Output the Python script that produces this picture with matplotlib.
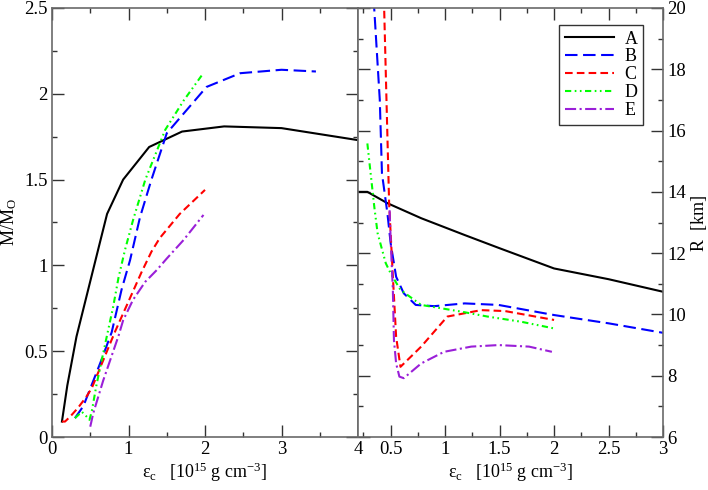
import numpy as np
import matplotlib
matplotlib.use('Agg')
import matplotlib.pyplot as plt
from matplotlib.ticker import MultipleLocator

plt.rcParams['font.family'] = ['Liberation Serif', 'DejaVu Serif']
plt.rcParams['mathtext.fontset'] = 'custom'
plt.rcParams['mathtext.rm'] = 'Liberation Serif'
plt.rcParams['mathtext.it'] = 'Liberation Serif:italic'
plt.rcParams['lines.scale_dashes'] = False

# left panel: M/Msun vs central density
eA_m = [0.13, 0.2, 0.32, 0.63, 0.72, 0.93, 1.27, 1.7, 2.25, 3.0, 4.0]
mA = [0.09, 0.30, 0.585, 1.14, 1.30, 1.50, 1.69, 1.78, 1.81, 1.80, 1.73]

eB_m = [0.3, 0.41, 0.63, 0.78, 0.91, 1.02, 1.15, 1.30, 1.5, 1.75, 2.02, 2.46, 3.0, 3.45]
mB = [0.11, 0.18, 0.43, 0.61, 0.86, 1.03, 1.28, 1.50, 1.77, 1.90, 2.04, 2.12, 2.14, 2.13]

eC_m = [0.13, 0.17, 0.24, 0.34, 0.45, 0.52, 0.82, 0.93, 1.04, 1.17, 1.30, 1.41, 1.67, 2.0]
mC = [0.09, 0.09, 0.12, 0.17, 0.235, 0.285, 0.61, 0.72, 0.83, 0.96, 1.08, 1.16, 1.30, 1.44]

eD_m = [0.3, 0.39, 0.45, 0.49, 0.52, 0.58, 0.67, 0.80, 0.87, 0.954, 1.06, 1.22, 1.48, 1.72, 1.97]
mD = [0.11, 0.147, 0.12, 0.10, 0.15, 0.30, 0.49, 0.76, 0.93, 1.09, 1.265, 1.50, 1.79, 1.96, 2.115]

eE_m = [0.5, 0.54, 0.67, 0.87, 0.93, 1.06, 1.22, 1.37, 1.5, 1.72, 1.98]
mE = [0.06, 0.14, 0.33, 0.59, 0.68, 0.80, 0.905, 0.973, 1.04, 1.148, 1.294]

# right panel: R vs central density
eA_r = [0.2, 0.286, 0.47, 0.78, 1.18, 1.5, 2.0, 2.5, 3.0]
rA = [14.0, 14.0, 13.63, 13.14, 12.59, 12.16, 11.5, 11.15, 10.74]

eB_r = [0.34, 0.40, 0.42, 0.47, 0.50, 0.55, 0.62, 0.73, 0.90, 1.18, 1.49, 2.0, 2.5, 3.0]
rB = [20.5, 17.0, 14.6, 13.3, 12.32, 11.23, 10.69, 10.31, 10.27, 10.36, 10.31, 9.98, 9.71, 9.40]

eC_r = [0.435, 0.44, 0.465, 0.486, 0.517, 0.55, 0.59, 0.78, 1.02, 1.33, 1.55, 2.0]
rC = [20.5, 20.0, 16.5, 13.6, 11.45, 9.27, 8.29, 8.95, 9.93, 10.14, 10.11, 9.82]

eD_r = [0.286, 0.316, 0.35, 0.38, 0.455, 0.50, 0.59, 0.78, 1.15, 1.39, 1.70, 1.99]
rD = [15.58, 14.6, 13.5, 12.65, 11.67, 11.34, 10.8, 10.31, 10.09, 9.93, 9.76, 9.55]

eE_r = [0.49, 0.50, 0.52, 0.53, 0.55, 0.58, 0.62, 0.78, 0.99, 1.24, 1.49, 1.77, 1.98]
rE = [13.4, 12.43, 10.8, 9.16, 8.4, 7.97, 7.92, 8.4, 8.78, 8.95, 9.0, 8.95, 8.78]

labels = ['A', 'B', 'C', 'D', 'E']
colors = ['black', '#0000ff', '#ff0000', '#00ff00', '#9a1fd8']
styles = ['-', (0, (9, 4)), (0, (5.5, 3)), (0, (4.5, 2.5, 1.2, 2.5, 1.2, 2.5)),
          (0, (8, 2.5, 1.5, 2.5))]

mass = [(eA_m, mA), (eB_m, mB), (eC_m, mC), (eD_m, mD), (eE_m, mE)]
radius = [(eA_r, rA), (eB_r, rB), (eC_r, rC), (eD_r, rD), (eE_r, rE)]

fig = plt.figure(figsize=(7.08, 4.90), dpi=100)
ax1 = fig.add_axes([52/708, 53/490, 306/708, 429/490])
ax2 = fig.add_axes([358/708, 53/490, 305/708, 429/490])

for (x, y), c, ls, lab in zip(mass, colors, styles, labels):
    ax1.plot(x, y, color=c, ls=ls, lw=1.5, label=lab)
for (x, y), c, ls, lab in zip(radius, colors, styles, labels):
    ax2.plot(x, y, color=c, ls=ls, lw=1.5, label=lab)

fmt = plt.FuncFormatter(lambda v, p: '%g' % v)

ax1.set_xlim(0, 4)
ax1.set_ylim(0, 2.5)
ax1.xaxis.set_major_locator(MultipleLocator(1))
ax1.xaxis.set_minor_locator(MultipleLocator(0.5))
ax1.yaxis.set_major_locator(MultipleLocator(0.5))
ax1.yaxis.set_minor_locator(MultipleLocator(0.25))
ax1.xaxis.set_major_formatter(fmt)
ax1.yaxis.set_major_formatter(fmt)

ax2.set_xlim(0.2, 3)
ax2.set_ylim(6, 20)
ax2.xaxis.set_major_locator(MultipleLocator(0.5))
ax2.xaxis.set_minor_locator(MultipleLocator(0.25))
ax2.yaxis.set_major_locator(MultipleLocator(2))
ax2.yaxis.set_minor_locator(MultipleLocator(1))
ax2.xaxis.set_major_formatter(fmt)
ax2.yaxis.set_major_formatter(fmt)
ax2.yaxis.tick_right()
ax2.yaxis.set_label_position('right')

for ax in (ax1, ax2):
    ax.tick_params(which='both', direction='in', top=True, bottom=True,
                   left=True, right=True, labelsize=13.5, color='#333333')
    ax.tick_params(which='major', length=8.5, width=1, pad=3)
    ax.tick_params(which='minor', length=3.6, width=1)
    for s in ax.spines.values():
        s.set_color('#6a6a6a')
        s.set_linewidth(1.2)
ax1.tick_params(labelright=False, labeltop=False)
ax2.tick_params(labelleft=False, labeltop=False, labelright=True)

xlab = 'ε$_\\mathrm{c}$   [10$^{15}$ g cm$^{-3}$]'
ax1.set_xlabel(xlab, fontsize=13, labelpad=2)
ax2.set_xlabel(xlab, fontsize=13, labelpad=2)
ax1.set_ylabel('M/M$_\\mathrm{O}$', fontsize=13, labelpad=4)
ax2.set_ylabel('R  [km]', fontsize=13, labelpad=4)

leg = ax2.legend(loc='upper right', bbox_to_anchor=(0.934, 0.960),
                 borderaxespad=0, fontsize=13, handlelength=2.7,
                 labelspacing=0.05, fancybox=False, edgecolor='black',
                 borderpad=0.3, handletextpad=0.6)
leg.get_frame().set_linewidth(1.0)

fig.savefig('out.png', dpi=100)
